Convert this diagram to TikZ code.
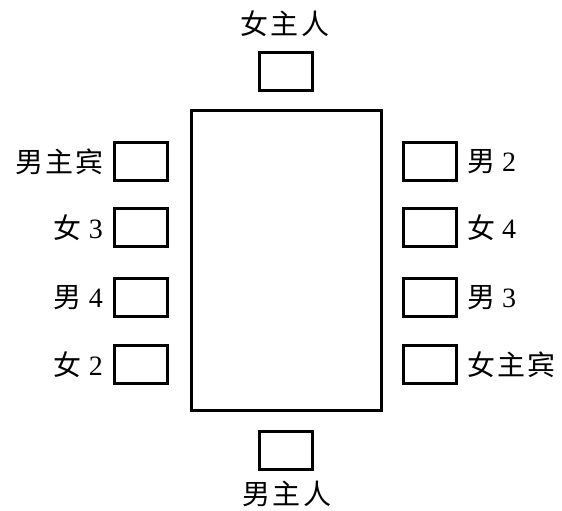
\documentclass[tikz,border=0pt]{standalone}
\usepackage{fontspec}
\setmainfont{Liberation Serif}
\newfontfamily\cjk[LetterSpace=8]{Noto Sans CJK SC}
\begin{document}
\begin{tikzpicture}[x=1pt,y=1pt,
  seat/.style={draw, line width=3pt, minimum width=53pt, minimum height=38pt, inner sep=0pt},
  tbl/.style={draw, line width=3pt, minimum width=190pt, minimum height=300pt, inner sep=0pt},
  lbl/.style={font=\fontsize{28}{28}\selectfont, inner sep=0pt}]
\useasboundingbox (0,0) rectangle (562,511);
\node[tbl] (table) at (286,250) {};
\node[seat] (top) at (286,439) {};
\node[seat] (bot) at (286,60) {};
\node[seat] (l1) at (141,349) {};
\node[seat] (l2) at (141,283) {};
\node[seat] (l3) at (141,213) {};
\node[seat] (l4) at (141,146) {};
\node[seat] (r1) at (430,349) {};
\node[seat] (r2) at (430,283) {};
\node[seat] (r3) at (430,213) {};
\node[seat] (r4) at (430,146) {};
\node[lbl] (ttop) at (285,487) {\cjk 女主人};
\node[lbl] (tbot) at (287,17) {\cjk 男主人};
\node[lbl, anchor=east] (tl1) at (104,349) {\cjk 男主宾};
\node[lbl, anchor=east] (tl2) at (103,283) {{\cjk 女} 3};
\node[lbl, anchor=east] (tl3) at (103,213) {{\cjk 男} 4};
\node[lbl, anchor=east] (tl4) at (103,146) {{\cjk 女} 2};
\node[lbl, anchor=west] (tr1) at (467,349) {{\cjk 男} 2};
\node[lbl, anchor=west] (tr2) at (467,283) {{\cjk 女} 4};
\node[lbl, anchor=west] (tr3) at (467,213) {{\cjk 男} 3};
\node[lbl, anchor=west] (tr4) at (467,146) {\cjk 女主宾};
\end{tikzpicture}
\end{document}
